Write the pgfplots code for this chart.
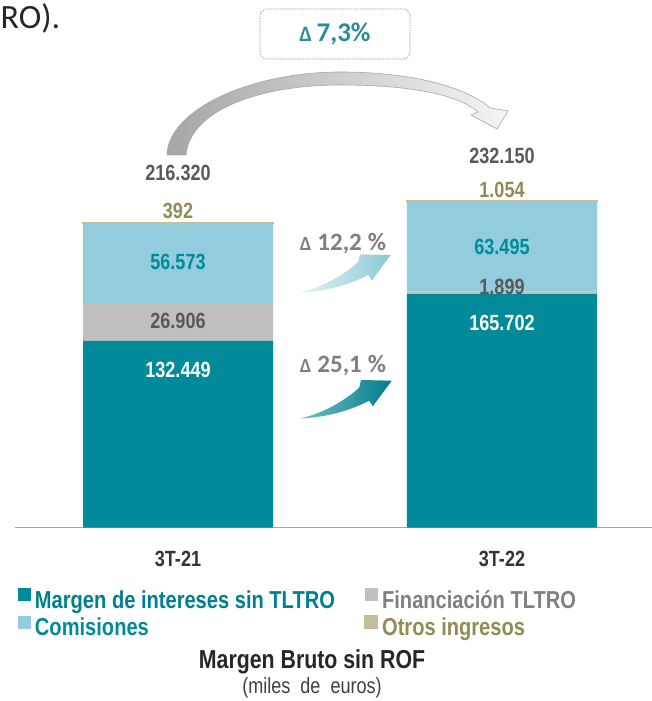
\documentclass[border=0pt]{standalone}
\usepackage{pgfplots}
\pgfplotsset{compat=1.18}
\usepackage{fontspec}
\setmainfont{Liberation Sans}[FakeStretch=0.82]
\newfontfamily\calfont{Carlito}
\definecolor{cTeal}{HTML}{008A9A}
\definecolor{cGrey}{HTML}{BFBFBF}
\definecolor{cBlue}{HTML}{93CDDD}
\definecolor{cTan}{HTML}{C4BD97}
\definecolor{cOlive}{HTML}{948A54}
\definecolor{cDark}{HTML}{595959}
\definecolor{cLegTeal}{HTML}{00808C}
\definecolor{cLegGrey}{HTML}{808080}
\definecolor{cDelta}{HTML}{7F7F7F}
\definecolor{cBoxTeal}{HTML}{2E8B9C}
\tikzset{
  lab/.style={inner sep=0pt, text height=15.8pt, text depth=0pt, font=\bfseries\fontsize{22}{22}\selectfont},
  dlab/.style={inner sep=0pt, text height=15.5pt, text depth=0pt, font=\calfont\bfseries\fontsize{25}{25}\selectfont, text=cDelta},
}
\pgfplotsset{legsq/.style={legend image code/.code={\fill[##1] (0pt,1pt) rectangle (13pt,14pt);}}}
\begin{document}
\begin{tikzpicture}[x=1pt,y=1pt]
\useasboundingbox (0,0) rectangle (652,701);
\begin{scope}
\clip (0,0) rectangle (652,701);
\node[anchor=base west, inner sep=0pt, text=black!85, font=\calfont\fontsize{34}{34}\selectfont] at (0.5,672.7) {RO).};

\begin{axis}[
  at={(15pt,173.3pt)}, anchor=south west,
  scale only axis, width=637pt, height=352.5pt,
  xmin=-0.5031, xmax=1.4630, ymin=0, ymax=250,
  ybar stacked, bar width=190pt,
  axis x line*=bottom, axis y line=none,
  x axis line style={draw=black!35, line width=1.3pt},
  xtick=\empty, ytick=\empty,
  clip=false,
  legend columns=2,
  legend cell align=left,
  legend style={draw=none, fill=none, inner sep=0pt, outer sep=0pt,
    at={(axis description cs:0.0047,-0.1722)}, anchor=north west,
    font=\bfseries\fontsize{24.5}{24.5}\selectfont,
    nodes={inner sep=0pt, text height=17.5pt, text depth=5pt},
    /tikz/row sep=1.5pt,
    /tikz/every odd column/.append style={column sep=4pt},
    /tikz/column 2/.append style={column sep=29pt}},
]
\addplot[fill=cTeal, draw=none, legsq] coordinates {(0,132.449) (1,165.702)};
\addlegendentry{\textcolor{cLegTeal}{Margen de intereses sin TLTRO}}
\addplot[fill=cGrey, draw=none, legsq] coordinates {(0,26.906) (1,1.899)};
\addlegendentry{\textcolor{cLegGrey}{Financiación TLTRO}}
\addplot[fill=cBlue, draw=none, legsq] coordinates {(0,56.573) (1,63.495)};
\addlegendentry{\textcolor{cTeal}{Comisiones}}
\addplot[fill=cTan, draw=cTan, line width=1.2pt, legsq] coordinates {(0,0.392) (1,1.054)};
\addlegendentry{\textcolor{cOlive}{Otros ingresos}}

\coordinate (a1) at (axis cs:0,111.8);
\coordinate (b1) at (axis cs:1,145.4);
\coordinate (a2) at (axis cs:0,146.8);
\coordinate (b2) at (axis cs:1,170.9);
\coordinate (a3) at (axis cs:0,188.65);
\coordinate (b3) at (axis cs:1,199.3);
\coordinate (a4) at (axis cs:0,224.6);
\coordinate (b4) at (axis cs:1,240.0);
\coordinate (a5) at (axis cs:0,251.8);
\coordinate (b5) at (axis cs:1,264.0);
\coordinate (a6) at (axis cs:0,-22.2);
\coordinate (b6) at (axis cs:1,-22.2);
\end{axis}

\node[lab, text=white] at (a1) {132.449};
\node[lab, text=white] at (b1) {165.702};
\node[lab, text=cDark] at (a2) {26.906};
\node[lab, text=cDark] at (b2) {1.899};
\node[lab, text=cTeal] at (a3) {56.573};
\node[lab, text=cTeal] at (b3) {63.495};
\node[lab, text=cOlive] at (a4) {392};
\node[lab, text=cOlive] at (b4) {1.054};
\node[lab, text=cDark] at (a5) {216.320};
\node[lab, text=cDark] at (b5) {232.150};
\node[lab, text=black!80] at (a6) {3T-21};
\node[lab, text=black!80] at (b6) {3T-22};

% title
\node[inner sep=0pt, text height=18.6pt, text depth=0pt, font=\bfseries\fontsize{26}{26}\selectfont, text=black!85] at (312,42) {Margen Bruto sin ROF};
\node[inner sep=0pt, text height=16pt, text depth=4.6pt, font=\fontsize{22}{22}\selectfont, text=black!75] at (312,13) {(miles\hspace{5pt} de\hspace{5pt} euros)};

% delta box
\draw[black!40, line width=0.6pt, dash pattern=on 1.5pt off 1pt, rounded corners=7pt] (260,642) rectangle (410,692);
\node[inner sep=0pt, text height=17pt, text depth=0pt, font=\calfont\bfseries\fontsize{27}{27}\selectfont, text=cBoxTeal] at (335,667.5) {{\fontsize{22}{22}\selectfont Δ}\,7,3\%};

% big curved arrow
\path[draw=black!35, line width=0.6pt, left color=black!35, right color=black!4]
 (167,546) .. controls (168,591) and (250,629) .. (340,629)
 .. controls (420,629) and (470,611) .. (490,593)
 -- (508,590) -- (497,572) -- (471,586) -- (478,589)
 .. controls (455,609) and (400,616) .. (340,616)
 .. controls (260,616) and (190,591) .. (186,546) -- cycle;

% small arrows
\path[left color=cBlue!25, right color=cBlue!85!cTeal!90]
 (299.3,408.3) .. controls (326.7,414.3) and (350,431) .. (358.3,439.3)
 -- (360,446.7) -- (390.7,446) -- (371.7,420.3) -- (368.3,426)
 .. controls (345,414) and (320,409) .. (299.3,408.3) -- cycle;
\begin{scope}[xshift=1pt, yshift=-125.7pt]
\path[left color=cTeal!55, right color=cTeal!90!black]
 (299.3,408.3) .. controls (326.7,414.3) and (350,431) .. (358.3,439.3)
 -- (360,446.7) -- (390.7,446) -- (371.7,420.3) -- (368.3,426)
 .. controls (345,414) and (320,409) .. (299.3,408.3) -- cycle;
\end{scope}
\node[dlab] at (343,458) {{\fontsize{20}{20}\selectfont Δ}\hspace{6pt}12,2\hspace{6pt}\%};
\node[dlab] at (343,336) {{\fontsize{20}{20}\selectfont Δ}\hspace{6pt}25,1\hspace{6pt}\%};
\end{scope}
\end{tikzpicture}
\end{document}
